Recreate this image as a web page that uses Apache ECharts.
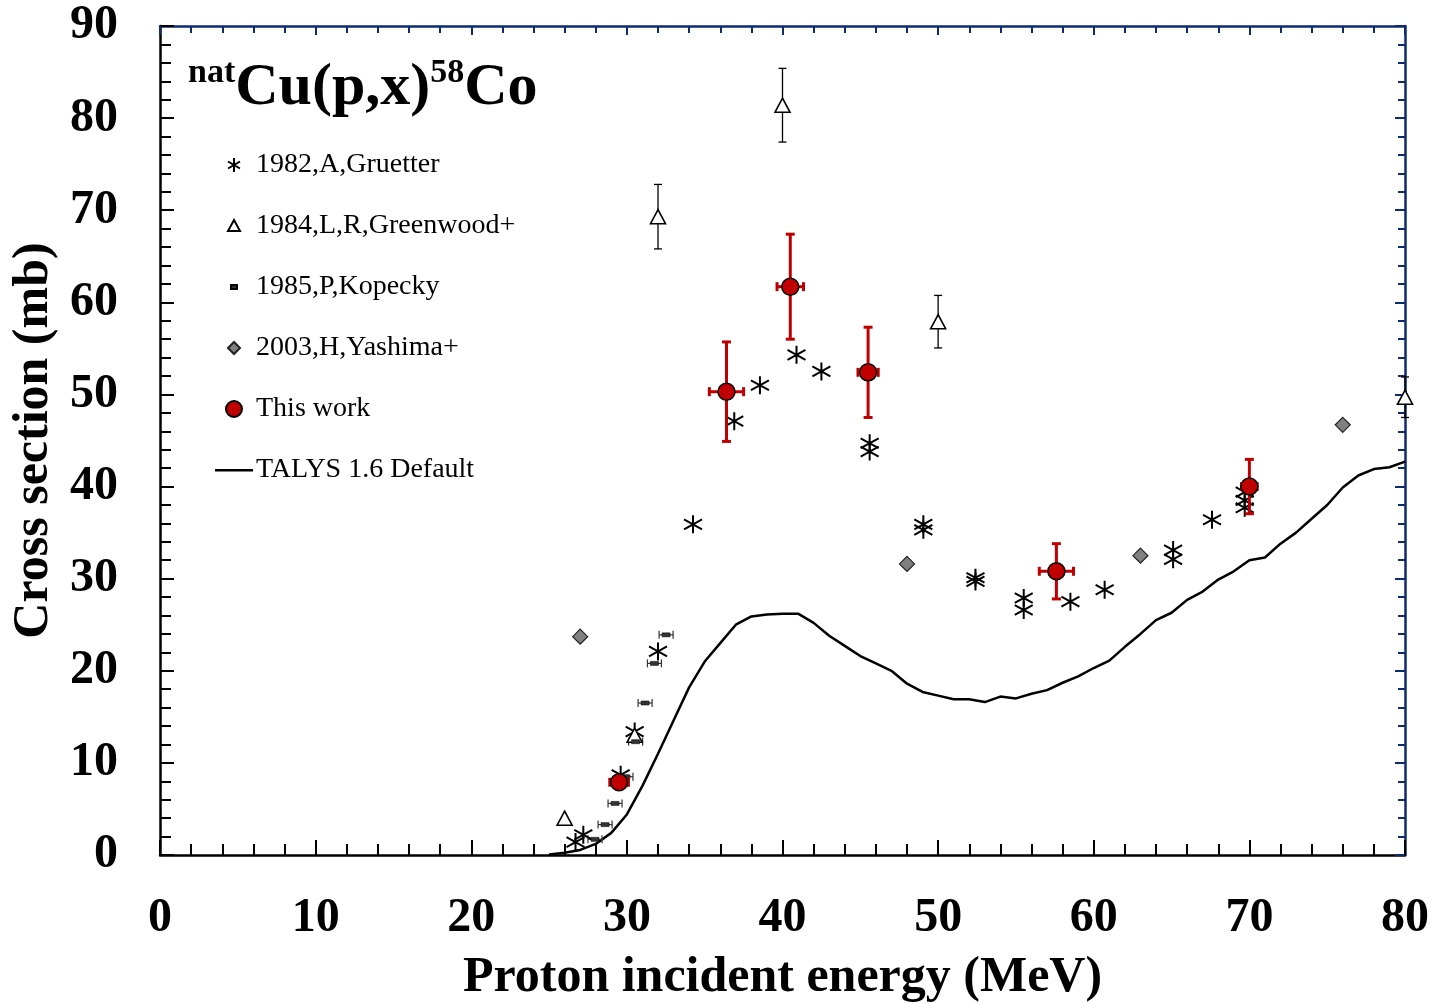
<!DOCTYPE html>
<html>
<head>
<meta charset="utf-8">
<script src="https://cdn.jsdelivr.net/npm/echarts@6/dist/echarts.min.js"></script>
<style>
html,body{margin:0;padding:0;background:#fff;overflow:hidden;}
#chart{width:1439px;height:1003px;}
</style>
</head>
<body>
<div id="chart"></div>
<script>
// ---------- data ----------
const xTicks = [0, 10, 20, 30, 40, 50, 60, 70, 80];
const yTicks = [0, 10, 20, 30, 40, 50, 60, 70, 80, 90];

// 1982, A, Gruetter
const gruetterE  = [26.7, 27.2, 29.6, 30.5, 32.0, 34.25, 36.9, 38.55, 40.9, 42.5, 45.6, 45.6, 49.05, 49.05, 52.4, 52.4, 55.5, 55.5, 58.5, 60.7, 65.1, 65.1, 67.6, 69.7, 69.7, 69.7];
const gruetterXS = [1.4, 2.2, 8.7, 13.4, 22.1, 35.9, 47.1, 51.0, 54.3, 52.5, 44.7, 43.8, 35.9, 35.3, 30.1, 29.7, 27.9, 26.6, 27.5, 28.8, 33.1, 32.1, 36.4, 39.4, 38.5, 37.7];

// 1984, L, R, Greenwood+
const greenwoodE   = [26.0, 30.5, 32.0, 40.0, 50.0, 80.0];
const greenwoodXS  = [4.0, 13.0, 69.3, 81.4, 57.9, 49.7];
const greenwoodErr = [0, 0, 3.5, 4.0, 2.85, 2.2];

// 1985, P, Kopecky
const kopeckyE    = [27.95, 28.6, 29.24, 29.94, 30.56, 31.17, 31.77, 32.52];
const kopeckyXS   = [1.7, 3.3, 5.6, 8.5, 12.3, 16.5, 20.8, 23.9];
const kopeckyEErr = [0.45, 0.45, 0.45, 0.45, 0.45, 0.45, 0.45, 0.45];

// 2003, H, Yashima+
const yashimaE  = [27.0, 48.0, 63.0, 76.0];
const yashimaXS = [23.7, 31.6, 32.5, 46.7];

// This work
const workE     = [29.5, 36.4, 40.5, 45.5, 57.6, 70.0];
const workXS    = [7.9, 50.3, 61.7, 52.4, 30.8, 40.0];
const workEErr  = [0.6, 1.1, 0.85, 0.65, 1.1, 0.5];
const workXSErr = [0.5, 5.4, 5.7, 4.9, 3.0, 2.95];

// TALYS 1.6 Default
const talysE  = [25, 26, 27, 28, 29, 30, 31, 32, 33, 34, 35, 36, 37, 38, 39, 40, 41, 42, 43, 44, 45, 46, 47, 48, 49, 50, 51, 52, 53, 54, 55, 56, 57, 58, 59, 60, 61, 62, 63, 64, 65, 66, 67, 68, 69, 70, 71, 72, 73, 74, 75, 76, 77, 78, 79, 80];
const talysXS = [0.05, 0.25, 0.55, 1.2, 2.4, 4.4, 7.5, 11.0, 14.6, 18.2, 21.0, 23.0, 25.0, 25.9, 26.1, 26.2, 26.2, 25.2, 23.8, 22.7, 21.6, 20.8, 20.0, 18.6, 17.7, 17.3, 16.9, 16.9, 16.6, 17.2, 17.0, 17.5, 17.9, 18.7, 19.4, 20.3, 21.1, 22.6, 24.0, 25.5, 26.3, 27.7, 28.6, 29.9, 30.8, 32.0, 32.3, 33.8, 35.0, 36.5, 38.0, 39.9, 41.2, 41.9, 42.1, 42.7];

const seriesNames = ['1982,A,Gruetter', '1984,L,R,Greenwood+', '1985,P,Kopecky', '2003,H,Yashima+', 'This work', 'TALYS 1.6 Default'];

// ---------- helpers ----------
const zip = (a, b) => a.map((v, i) => [v, b[i]]);
const FONT = '"Liberation Serif", "Times New Roman", serif';
const NAVY = '#0d2b6e';
const RED = '#c00000';
const ASTERISK = 'path://M10,0L10,20M1.5,4.5L18.5,15.5M1.5,15.5L18.5,4.5';
const ASTERISK_LEG = 'path://M0,0M20,20M10,3L10,17M4,6.5L16,13.5M4,13.5L16,6.5';
const TRI_LEG = 'path://M0,0M20,20M10,4L16,15L4,15Z';
const DASH = 'path://M0,0h8v4h-8z';
const DASH_LEG = 'path://M0,0M20,20M7,8h6v4h-6z';
const DIAMOND_LEG = 'path://M0,0M20,20M10,4L16,10L10,16L4,10Z';
const CIRCLE_LEG = 'path://M0,0M20,20M10,2A8,8,0,1,1,9.99,2Z';
const LINE_LEG = 'path://M0,0M38,20M0,9h38v2.4h-38z';

function errRender(color, lw, cap) {
  return function (params, api) {
    const x = api.value(0), y = api.value(1);
    const xl = api.value(2), xh = api.value(3), yl = api.value(4), yh = api.value(5);
    const children = [];
    const st = { stroke: color, lineWidth: lw, fill: 'none' };
    if (yh > yl) {
      const p1 = api.coord([x, yl]), p2 = api.coord([x, yh]);
      children.push({ type: 'line', shape: { x1: p1[0], y1: p1[1], x2: p2[0], y2: p2[1] }, style: st });
      children.push({ type: 'line', shape: { x1: p1[0] - cap, y1: p1[1], x2: p1[0] + cap, y2: p1[1] }, style: st });
      children.push({ type: 'line', shape: { x1: p2[0] - cap, y1: p2[1], x2: p2[0] + cap, y2: p2[1] }, style: st });
    }
    if (xh > xl) {
      const p1 = api.coord([xl, y]), p2 = api.coord([xh, y]);
      children.push({ type: 'line', shape: { x1: p1[0], y1: p1[1], x2: p2[0], y2: p2[1] }, style: st });
      children.push({ type: 'line', shape: { x1: p1[0], y1: p1[1] - cap, x2: p1[0], y2: p1[1] + cap }, style: st });
      children.push({ type: 'line', shape: { x1: p2[0], y1: p2[1] - cap, x2: p2[0], y2: p2[1] + cap }, style: st });
    }
    return { type: 'group', children: children };
  };
}

const greenwoodErrData = greenwoodE.map((e, i) => [e, greenwoodXS[i], e, e, greenwoodXS[i] - greenwoodErr[i], greenwoodXS[i] + greenwoodErr[i]]);
const kopeckyErrData = kopeckyE.map((e, i) => [e, kopeckyXS[i], e - kopeckyEErr[i], e + kopeckyEErr[i], kopeckyXS[i], kopeckyXS[i]]);
const workErrData = workE.map((e, i) => [e, workXS[i], e - workEErr[i], e + workEErr[i], workXS[i] - workXSErr[i], workXS[i] + workXSErr[i]]);

const chart = echarts.init(document.getElementById('chart'), null, { renderer: 'canvas' });

const axisLabelStyle = { fontFamily: FONT, fontWeight: 'bold', fontSize: 48, color: '#000' };

const option = {
  backgroundColor: '#fff',
  animation: false,
  grid: { left: 160, right: 34, top: 26, bottom: 148, containLabel: false, outerBoundsMode: 'none' },
  legend: {
    orient: 'vertical',
    left: 210,
    top: 146,
    itemWidth: 38,
    itemHeight: 20,
    itemGap: 33,
    selectedMode: false,
    textStyle: { fontFamily: FONT, fontSize: 28, color: '#000', padding: [0, 0, 0, -2] },
    data: [
      { name: seriesNames[0], icon: ASTERISK_LEG },
      { name: seriesNames[1], icon: TRI_LEG },
      { name: seriesNames[2], icon: DASH_LEG },
      { name: seriesNames[3], icon: DIAMOND_LEG },
      { name: seriesNames[4], icon: CIRCLE_LEG },
      { name: seriesNames[5], icon: LINE_LEG }
    ]
  },
  graphic: [
    {
      type: 'text',
      left: 188,
      top: 56,
      style: {
        text: '{sup|nat}{main|Cu(p,x)}{sup|58}{main|Co}',
        fill: '#000',
        rich: {
          sup: { fontFamily: FONT, fontWeight: 'bold', fontSize: 34, verticalAlign: 'top', lineHeight: 64 },
          main: { fontFamily: FONT, fontWeight: 'bold', fontSize: 60, lineHeight: 64 }
        }
      }
    }
  ],
  xAxis: [
    {
      type: 'value', min: xTicks[0], max: xTicks[xTicks.length - 1], interval: 10,
      position: 'bottom',
      name: 'Proton incident energy (MeV)',
      nameLocation: 'middle',
      nameGap: 98,
      nameTextStyle: { fontFamily: FONT, fontWeight: 'bold', fontSize: 50, color: '#000' },
      axisLine: { show: true, onZero: false, lineStyle: { color: '#000', width: 2.5 } },
      axisTick: { show: true, inside: true, length: 15, lineStyle: { color: '#000', width: 2 } },
      minorTick: { show: true, splitNumber: 5, length: 11, lineStyle: { color: '#000', width: 2 } },
      axisLabel: Object.assign({ margin: 40 }, axisLabelStyle),
      splitLine: { show: false }
    },
    {
      type: 'value', min: xTicks[0], max: xTicks[xTicks.length - 1], interval: 10,
      position: 'top',
      axisLine: { show: true, onZero: false, lineStyle: { color: NAVY, width: 2.5 } },
      axisTick: { show: true, inside: true, length: 9, lineStyle: { color: NAVY, width: 2 } },
      minorTick: { show: true, splitNumber: 5, length: 7, lineStyle: { color: NAVY, width: 2 } },
      axisLabel: { show: false },
      splitLine: { show: false }
    }
  ],
  yAxis: [
    {
      type: 'value', min: yTicks[0], max: yTicks[yTicks.length - 1], interval: 10,
      position: 'left',
      name: 'Cross section (mb)',
      nameLocation: 'middle',
      nameGap: 84,
      nameTextStyle: { fontFamily: FONT, fontWeight: 'bold', fontSize: 50, color: '#000' },
      axisLine: { show: true, onZero: false, lineStyle: { color: '#000', width: 2.5 } },
      axisTick: { show: true, inside: true, length: 14, lineStyle: { color: '#000', width: 2 } },
      minorTick: { show: true, splitNumber: 5, length: 11, lineStyle: { color: '#000', width: 2 } },
      axisLabel: Object.assign({ margin: 42, padding: [18, 0, 0, 0] }, axisLabelStyle),
      splitLine: { show: false }
    },
    {
      type: 'value', min: yTicks[0], max: yTicks[yTicks.length - 1], interval: 10,
      position: 'right',
      axisLine: { show: true, onZero: false, lineStyle: { color: NAVY, width: 2.5 } },
      axisTick: { show: true, inside: true, length: 10, lineStyle: { color: NAVY, width: 2 } },
      minorTick: { show: true, splitNumber: 5, length: 7, lineStyle: { color: NAVY, width: 2 } },
      axisLabel: { show: false },
      splitLine: { show: false }
    }
  ],
  series: [
    {
      name: seriesNames[5], type: 'line', data: zip(talysE, talysXS),
      symbol: 'none', smooth: false, z: 2,
      lineStyle: { color: '#000', width: 2.5 },
      itemStyle: { color: '#000' }
    },
    {
      name: seriesNames[0], type: 'scatter', data: zip(gruetterE, gruetterXS),
      symbol: ASTERISK, symbolSize: 18, z: 3,
      itemStyle: { color: '#000', borderColor: '#000', borderWidth: 2, opacity: 1 }
    },
    {
      type: 'custom', renderItem: errRender('#000', 1.3, 4), data: greenwoodErrData,
      encode: { x: [0, 2, 3], y: [1, 4, 5] }, z: 3, silent: true
    },
    {
      name: seriesNames[1], type: 'scatter', data: zip(greenwoodE, greenwoodXS),
      symbol: 'triangle', symbolSize: [15, 14], z: 4,
      itemStyle: { color: '#fff', borderColor: '#000', borderWidth: 1.6, opacity: 1 }
    },
    {
      type: 'custom', renderItem: errRender('#333', 1.2, 4), data: kopeckyErrData,
      encode: { x: [0, 2, 3], y: [1, 4, 5] }, z: 3, silent: true
    },
    {
      name: seriesNames[2], type: 'scatter', data: zip(kopeckyE, kopeckyXS),
      symbol: DASH, symbolSize: [8, 4], z: 4,
      itemStyle: { color: '#333', borderColor: '#000', borderWidth: 0.5, opacity: 1 }
    },
    {
      name: seriesNames[3], type: 'scatter', data: zip(yashimaE, yashimaXS),
      symbol: 'diamond', symbolSize: 15, z: 4,
      itemStyle: { color: '#808080', borderColor: '#222', borderWidth: 1.2, opacity: 1 }
    },
    {
      type: 'custom', renderItem: errRender(RED, 3, 4.5), data: workErrData,
      encode: { x: [0, 2, 3], y: [1, 4, 5] }, z: 5, silent: true
    },
    {
      name: seriesNames[4], type: 'scatter', data: zip(workE, workXS),
      symbol: 'circle', symbolSize: 17, z: 6,
      itemStyle: { color: RED, borderColor: '#000', borderWidth: 1.5, opacity: 1 }
    }
  ]
};

chart.setOption(option);
</script>
</body>
</html>
